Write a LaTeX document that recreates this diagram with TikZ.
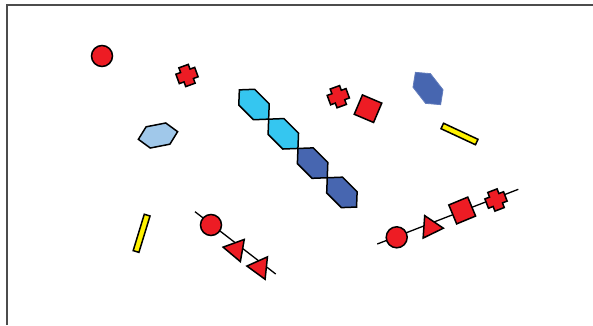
\documentclass[tikz,border=0pt]{standalone}
\usepackage{tikz}
\usetikzlibrary{shapes.geometric}
\definecolor{SugRed}{RGB}{237,28,36}
\definecolor{SugCyan}{RGB}{53,198,240}
\definecolor{SugBlue}{RGB}{71,102,176}
\definecolor{SugPale}{RGB}{160,200,234}
\definecolor{SugYel}{RGB}{255,242,0}
\tikzset{
  outl/.style={draw=black,line width=1.5pt},
  rdot/.style={circle,outl,fill=SugRed,minimum size=21pt,inner sep=0pt},
  rtri/.style={regular polygon,regular polygon sides=3,outl,fill=SugRed,
               minimum size=26pt,inner sep=0pt},
  rsq/.style={rectangle,outl,fill=SugRed,minimum size=21pt,inner sep=0pt},
  ybar/.style={rectangle,outl,fill=SugYel,minimum width=38pt,minimum height=6pt,inner sep=0pt},
  bond/.style={line width=1.3pt,black},
  frame/.style={line width=1.2pt,black!70},
  hexa/.pic={\path[pic actions] (-1,0) -- (-.5,.54) -- (.5,.54) -- (1,0)
               -- (.5,-.54) -- (-.5,-.54) -- cycle;},
  plusm/.pic={\path[pic actions] (-.25,-.5) -- (.25,-.5) -- (.25,-.25) -- (.5,-.25)
               -- (.5,.25) -- (.25,.25) -- (.25,.5) -- (-.25,.5) -- (-.25,.25)
               -- (-.5,.25) -- (-.5,-.25) -- (-.25,-.25) -- cycle;},
}

\begin{document}
\begin{tikzpicture}[x=1pt,y=1pt]
  \useasboundingbox (0,0) rectangle (593,325);
  \draw[frame] (7,0) -- (7,320) -- (593,320);

  % single symbols
  \node[rdot] (dot1) at (102,269) {};
  \pic[outl,fill=SugRed,scale=20,rotate=20] (plus1) at (187,249.5) {plusm};
  \pic[outl,fill=SugPale,scale=20,rotate=11] (hexp) at (158,189.5) {hexa};
  \node[ybar,rotate=73] (bar1) at (141.6,91.7) {};
  \node[ybar,rotate=-25] (bar2) at (459.5,191) {};
  \pic[draw=SugBlue!85!white,line width=0.8pt,fill=SugBlue,scale=20.5,rotate=-52] (hexb) at (428,236.5) {hexa};
  \pic[outl,fill=SugRed,scale=20,rotate=20] (plus2) at (338.3,228.3) {plusm};
  \node[rsq,rotate=-23] (sq1) at (368,216.3) {};

  % hexagon chain
  \pic[outl,fill=SugCyan,scale=20.7,rotate=-45] (hx1) at (254,220.5) {hexa};
  \pic[outl,fill=SugCyan,scale=20.7,rotate=-45] (hx2) at (283.3,191.2) {hexa};
  \pic[outl,fill=SugBlue,scale=20.7,rotate=-45] (hx3) at (312.6,161.9) {hexa};
  \pic[outl,fill=SugBlue,scale=20.7,rotate=-45] (hx4) at (341.9,132.6) {hexa};

  % chain with triangles
  \coordinate (a0) at (195,113.3);
  \coordinate (a1) at (275.7,51);
  \draw[bond] (a0) -- (a1);
  \node[rdot] (dot2) at (211,100) {};
  \node[rtri,regular polygon rotate=80] (tri1) at (235.9,75.6) {};
  \node[rtri,regular polygon rotate=84] (tri2) at (259.8,57.6) {};

  % chain to the right
  \coordinate (b0) at (377.3,81);
  \coordinate (b1) at (518.3,135.7);
  \draw[bond] (b0) -- (b1);
  \node[rdot] (dot3) at (396.7,87.7) {};
  \node[rtri,regular polygon rotate=-94] (tri3) at (430.4,97.7) {};
  \node[rsq,minimum size=20.5pt,rotate=22.5] (sq2) at (462.2,114.5) {};
  \pic[outl,fill=SugRed,scale=20,rotate=21] (plus3) at (496,125) {plusm};
\end{tikzpicture}
\end{document}
